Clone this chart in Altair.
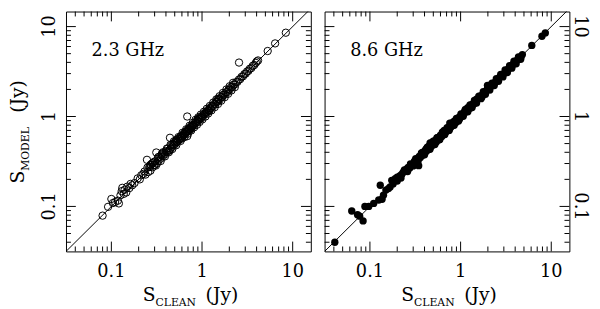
import altair as alt
import pandas as pd

# ---------------- data ----------------
# 2.3 GHz panel: S_CLEAN (x) vs S_MODEL (y), Jy
x23 = [0.080, 0.092, 0.100, 0.104, 0.110, 0.118, 0.121, 0.126, 0.130, 0.132,
       0.137, 0.140, 0.146, 0.150, 0.158, 0.163, 0.170, 0.180, 0.195, 0.206,
       0.214, 0.225, 0.232, 0.238, 0.247, 0.255, 0.262, 0.268, 0.272, 0.280,
       0.285, 0.290, 0.298, 0.305, 0.313, 0.318, 0.325, 0.33, 0.34, 0.35,
       0.36, 0.37, 0.38, 0.39, 0.40, 0.41, 0.42, 0.43, 0.443, 0.45,
       0.46, 0.47, 0.48, 0.49, 0.50, 0.51, 0.52, 0.53, 0.54, 0.55,
       0.56, 0.57, 0.58, 0.59, 0.60, 0.61, 0.62, 0.63, 0.64, 0.65,
       0.66, 0.67, 0.68, 0.687, 0.687, 0.69, 0.70, 0.71, 0.72, 0.73,
       0.74, 0.75, 0.76, 0.77, 0.78, 0.79, 0.80, 0.82, 0.84, 0.86,
       0.88, 0.90, 0.92, 0.94, 0.96, 0.98, 1.00, 1.02, 1.05, 1.08,
       1.10, 1.13, 1.16, 1.19, 1.22, 1.25, 1.28, 1.32, 1.36, 1.40,
       1.44, 1.48, 1.52, 1.57, 1.62, 1.67, 1.72, 1.78, 1.84, 1.90,
       1.96, 2.02, 2.09, 2.16, 2.23, 2.30, 2.38, 2.46, 2.56, 2.55,
       2.64, 2.73, 2.83, 2.93, 3.03, 3.14, 3.25, 3.37, 3.50, 3.63,
       3.77, 3.92, 4.02, 4.15, 5.30, 6.40, 8.40,
       0.36, 0.44, 0.52, 0.60, 0.75, 0.90, 1.20, 1.50, 0.30, 0.27,
       0.25, 0.27, 0.29, 0.31, 0.33, 0.35, 0.37, 0.39, 0.41, 0.43,
       0.45, 0.47, 0.49, 0.52, 0.55, 0.58, 0.61, 0.64, 0.67, 0.70,
       0.73, 0.76, 0.79, 0.82, 0.85, 0.88, 0.91, 0.94, 0.97, 1.01,
       1.05, 1.09, 1.13, 1.17, 1.22, 1.27, 1.33, 1.38, 1.44, 1.50,
       1.56, 1.63, 1.70, 1.78, 1.86, 1.94, 2.02, 2.11, 2.20, 2.30]
y23 = [0.079, 0.099, 0.121, 0.109, 0.112, 0.116, 0.108, 0.133, 0.148, 0.161,
       0.138, 0.153, 0.143, 0.166, 0.160, 0.178, 0.172, 0.182, 0.205, 0.200,
       0.222, 0.230, 0.244, 0.226, 0.330, 0.241, 0.275, 0.275, 0.290, 0.300,
       0.273, 0.305, 0.290, 0.318, 0.398, 0.300, 0.340, 0.32, 0.355, 0.34,
       0.37, 0.36, 0.395, 0.38, 0.41, 0.40, 0.44, 0.42, 0.580, 0.44,
       0.48, 0.46, 0.49, 0.48, 0.52, 0.50, 0.53, 0.52, 0.56, 0.54,
       0.57, 0.56, 0.60, 0.58, 0.61, 0.60, 0.64, 0.62, 0.65, 0.64,
       0.68, 0.66, 0.69, 1.000, 0.605, 0.68, 0.72, 0.70, 0.73, 0.72,
       0.76, 0.74, 0.77, 0.76, 0.80, 0.78, 0.81, 0.80, 0.86, 0.85,
       0.90, 0.88, 0.94, 0.93, 0.98, 0.96, 1.02, 1.00, 1.07, 1.06,
       1.12, 1.11, 1.18, 1.17, 1.24, 1.23, 1.30, 1.30, 1.38, 1.37,
       1.46, 1.46, 1.55, 1.54, 1.64, 1.64, 1.75, 1.75, 1.86, 1.87,
       1.99, 1.99, 2.12, 2.13, 2.26, 2.27, 2.41, 2.43, 3.98, 2.57,
       2.61, 2.76, 2.80, 2.96, 3.00, 3.17, 3.22, 3.40, 3.46, 3.66,
       3.74, 3.95, 4.10, 4.20, 5.35, 6.50, 8.55,
       0.385, 0.42, 0.55, 0.57, 0.72, 0.94, 1.15, 1.57, 0.29, 0.29,
       0.27, 0.25, 0.31, 0.285, 0.355, 0.32, 0.40, 0.36, 0.44, 0.40,
       0.485, 0.435, 0.53, 0.48, 0.59, 0.535, 0.66, 0.59, 0.72, 0.645,
       0.79, 0.70, 0.85, 0.76, 0.92, 0.81, 0.98, 0.87, 1.05, 0.93,
       1.13, 1.00, 1.22, 1.08, 1.31, 1.17, 1.43, 1.27, 1.55, 1.38,
       1.68, 1.50, 1.83, 1.64, 2.00, 1.79, 2.17, 1.95, 2.37, 2.12]

# 8.6 GHz panel
x86 = [0.041, 0.063, 0.073, 0.077, 0.084, 0.088, 0.097, 0.110, 0.125, 0.130,
       0.136, 0.141, 0.150, 0.160, 0.167, 0.174, 0.180, 0.190, 0.200, 0.206,
       0.215, 0.225, 0.233, 0.245, 0.255, 0.264, 0.275, 0.285, 0.300, 0.310,
       0.320, 0.330, 0.339, 0.345, 0.350, 0.36, 0.37, 0.375, 0.38, 0.39,
       0.40, 0.41, 0.42, 0.43, 0.44, 0.45, 0.461, 0.47, 0.48, 0.49,
       0.50, 0.52, 0.54, 0.56, 0.58, 0.60, 0.62, 0.64, 0.66, 0.68,
       0.70, 0.72, 0.74, 0.76, 0.76, 0.78, 0.80, 0.82, 0.85, 0.88,
       0.91, 0.94, 0.97, 1.00, 1.03, 1.06, 1.10, 1.14, 1.18, 1.22,
       1.26, 1.30, 1.35, 1.40, 1.45, 1.50, 1.56, 1.62, 1.68, 1.74,
       1.80, 1.86, 1.93, 1.98, 2.00, 2.05, 2.10, 2.18, 2.26, 2.34,
       2.42, 2.51, 2.60, 2.70, 2.80, 2.90, 3.00, 3.12, 3.24, 3.36,
       3.48, 3.60, 3.74, 3.88, 4.02, 4.17, 4.32, 4.48, 4.65, 4.80,
       6.10, 7.90, 8.60,
       0.42, 0.50, 0.58, 0.66, 0.74, 0.85, 0.97, 1.12, 1.30, 1.50,
       1.72, 0.55, 0.65, 0.90, 1.20,
       0.20, 0.22, 0.24, 0.26, 0.28, 0.30, 0.32, 0.34, 0.37, 0.40,
       0.43, 0.46, 0.49, 0.52, 0.55, 0.59, 0.63, 0.67, 0.71, 0.75,
       0.80, 0.85, 0.90, 0.95, 1.01, 1.07, 1.13, 1.20, 1.27, 1.34,
       1.42, 1.50, 1.59, 1.68, 1.78, 1.88, 1.99, 2.10, 2.22, 2.35,
       2.48, 2.62, 2.77, 2.93, 3.10, 3.28, 3.47, 3.67, 3.88, 4.10,
       4.35, 4.60]
y86 = [0.040, 0.089, 0.081, 0.078, 0.069, 0.100, 0.100, 0.108, 0.118, 0.172,
       0.120, 0.133, 0.152, 0.158, 0.165, 0.195, 0.178, 0.203, 0.192, 0.212,
       0.220, 0.228, 0.240, 0.252, 0.262, 0.272, 0.268, 0.290, 0.296, 0.318,
       0.312, 0.335, 0.336, 0.284, 0.360, 0.35, 0.385, 0.397, 0.37, 0.405,
       0.39, 0.425, 0.41, 0.45, 0.43, 0.47, 0.510, 0.48, 0.47, 0.51,
       0.49, 0.54, 0.52, 0.58, 0.56, 0.62, 0.60, 0.66, 0.64, 0.70,
       0.68, 0.74, 0.72, 0.845, 0.78, 0.76, 0.82, 0.80, 0.87, 0.86,
       0.93, 0.92, 0.99, 0.98, 1.05, 1.04, 1.12, 1.12, 1.20, 1.20,
       1.28, 1.28, 1.37, 1.38, 1.47, 1.48, 1.58, 1.60, 1.70, 1.72,
       1.83, 1.84, 1.95, 2.22, 2.02, 2.20, 2.08, 2.20, 2.24, 2.37,
       2.40, 2.54, 2.58, 2.73, 2.78, 2.93, 2.98, 3.15, 3.22, 3.39,
       3.46, 3.64, 3.72, 3.92, 4.00, 4.21, 4.30, 4.52, 4.62, 4.88,
       6.17, 7.80, 8.50,
       0.44, 0.53, 0.55, 0.70, 0.70, 0.89, 0.93, 1.17, 1.25, 1.56,
       1.65, 0.57, 0.68, 0.87, 1.25,
       0.212, 0.207, 0.254, 0.244, 0.297, 0.282, 0.339, 0.320, 0.392, 0.376,
       0.456, 0.432, 0.519, 0.489, 0.583, 0.555, 0.668, 0.630, 0.753, 0.705,
       0.848, 0.800, 0.954, 0.893, 1.070, 1.006, 1.198, 1.128, 1.346, 1.260,
       1.505, 1.410, 1.685, 1.579, 1.887, 1.767, 2.109, 1.974, 2.353, 2.209,
       2.629, 2.463, 2.936, 2.754, 3.286, 3.083, 3.678, 3.450, 4.113, 3.854,
       4.611, 4.324]

major_vals = [0.1, 1, 10]
major_text = ["0.1", "1", "10"]
minor_vals = [0.04, 0.05, 0.06, 0.07, 0.08, 0.09,
              0.2, 0.3, 0.4, 0.5, 0.6, 0.7, 0.8, 0.9,
              2, 3, 4, 5, 6, 7, 8, 9]
diag_vals = [0.01, 100]
x_domain = [0.0316, 15.85]
y_domain = [0.0316, 14.7]

# ---------------- styling ----------------
W, H = 249, 244
FONT = "DejaVu Serif"
MAJ, MIN = 10, 5


def txt(s, x, y, size, angle=0, align="left", baseline="alphabetic"):
    kw = dict(font=FONT, fontSize=size, align=align, baseline=baseline, color="black")
    if angle:
        kw["angle"] = angle
    return alt.Chart(pd.DataFrame({"t": [s]})).mark_text(**kw).encode(
        text="t:N", x=alt.value(x), y=alt.value(y))


def panel(xv, yv, filled, tag, side):
    xs = alt.Scale(type="log", domain=x_domain, nice=False)
    ys = alt.Scale(type="log", domain=y_domain, nice=False)
    X = lambda f: alt.X(f + ":Q", scale=xs, axis=None)
    Y = lambda f: alt.Y(f + ":Q", scale=ys, axis=None)

    layers = []
    diag = pd.DataFrame({"x": diag_vals, "y": diag_vals})
    layers.append(alt.Chart(diag).mark_line(clip=True, color="black", strokeWidth=1)
                  .encode(x=X("x"), y=Y("y")))
    pts = pd.DataFrame({"x": xv, "y": yv})
    if filled:
        m = alt.Chart(pts).mark_circle(size=56, color="black", opacity=1)
    else:
        m = alt.Chart(pts).mark_point(shape="circle", size=56, filled=False,
                                      color="black", strokeWidth=1, opacity=1)
    layers.append(m.encode(x=X("x"), y=Y("y")))

    maj = pd.DataFrame({"v": major_vals, "t": major_text})
    mnr = pd.DataFrame({"v": minor_vals})
    for df, L in ((maj, MAJ), (mnr, MIN)):
        r = alt.Chart(df).mark_rule(color="black", strokeWidth=1)
        layers.append(r.encode(x=X("v"), y=alt.value(H), y2=alt.value(H - L)))
        layers.append(r.encode(x=X("v"), y=alt.value(0), y2=alt.value(L)))
        layers.append(r.encode(y=Y("v"), x=alt.value(0), x2=alt.value(L)))
        layers.append(r.encode(y=Y("v"), x=alt.value(W), x2=alt.value(W - L)))

    lab = dict(font=FONT, fontSize=18, color="black")
    layers.append(alt.Chart(maj).mark_text(align="center", baseline="middle", **lab)
                  .encode(x=X("v"), y=alt.value(H + 21), text="t:N"))
    if side == "left":
        layers.append(alt.Chart(maj).mark_text(angle=270, align="center",
                                               baseline="alphabetic", **lab)
                      .encode(y=Y("v"), x=alt.value(-11), text="t:N"))
        layers.append(txt("S", -43, 175, 19, angle=270))
        layers.append(txt("MODEL", -38, 162, 11, angle=270))
        layers.append(txt("(Jy)", -43, 103, 19, angle=270))
    else:
        layers.append(alt.Chart(maj).mark_text(angle=90, align="center",
                                               baseline="alphabetic", **lab)
                      .encode(y=Y("v"), x=alt.value(W + 6), text="t:N"))

    layers.append(txt("S", 78, H + 50, 19))
    layers.append(txt("CLEAN", 91, H + 55, 11))
    layers.append(txt("(Jy)", 142, H + 50, 19))
    layers.append(txt(tag, 26, 45, 18))

    return alt.layer(*layers).properties(width=W, height=H)


left = panel(x23, y23, False, "2.3 GHz", "left")
right = panel(x86, y86, True, "8.6 GHz", "right")

chart = alt.hconcat(left, right, spacing=12).properties(
    padding={"left": 0, "top": 0, "bottom": 0, "right": 2}, background="white"
).configure_view(stroke="black", strokeWidth=1)

chart.save("out.html", embed_options={"renderer": "svg", "actions": False})
